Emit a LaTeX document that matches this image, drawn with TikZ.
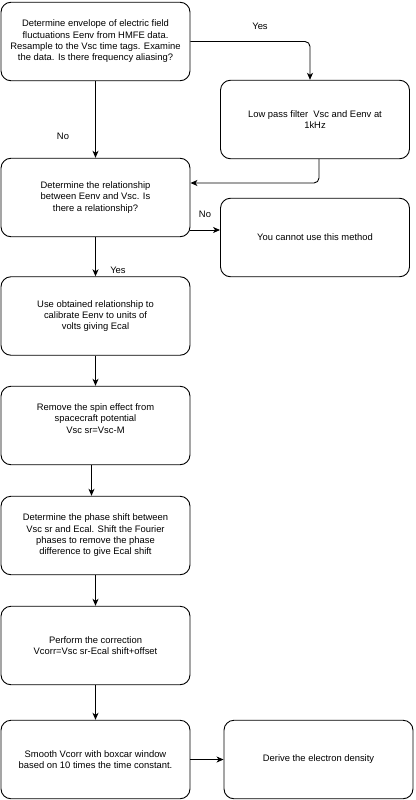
\documentclass[tikz,border=0pt]{standalone}
\usepackage{fontspec}
\setmainfont{Liberation Sans}
\usetikzlibrary{arrows.meta}
\begin{document}
\begin{tikzpicture}[x=1pt,y=-1pt,
  box/.style={draw=black,line width=0.9pt,rounded corners=10pt,minimum width=189pt,minimum height=78.5pt,inner sep=0pt,align=center,font=\fontsize{9.4}{11.3}\selectfont},
  lbl/.style={inner sep=0pt,font=\fontsize{9.4}{11.3}\selectfont},
  arr/.style={draw=black,line width=0.9pt,-{Stealth[length=7pt,width=6pt,inset=2pt]}}]
\useasboundingbox (0,0) rectangle (415,800);
\node[box] (b1) at (95.5,41.5) {\raisebox{0pt}{}Determine envelope of electric field\\fluctuations Eenv from HMFE data.\\Resample to the Vsc time tags. Examine\\the data. Is there frequency aliasing?};
\node[box] (b2) at (315,119.5) {Low pass filter\ \ Vsc and Eenv at\\1kHz};
\node[box] (b3) at (95.5,197.5) {Determine the relationship\\between Eenv and Vsc. Is\\there a relationship?};
\node[box] (b4) at (315,237.5) {You cannot use this method};
\node[box] (b5) at (95.5,316) {Use obtained relationship to\\calibrate Eenv to units of\\volts giving Ecal};
\node[box] (b6) at (95.5,425.5) {};
\node[lbl,align=center] (t6) at (95.5,418.5) {Remove the spin effect from\\spacecraft potential\\ Vsc sr=Vsc-M};
\node[box] (b7) at (95.5,535.5) {Determine the phase shift between\\Vsc sr and Ecal. Shift the Fourier\\phases to remove the phase\\difference to give Ecal shift};
\node[box] (b8) at (95.5,645.5) {Perform the correction\\ Vcorr=Vsc sr-Ecal shift+offset};
\node[box] (b9) at (95.5,759.5) {Smooth Vcorr with boxcar window\\based on 10 times the time constant.};
\node[box] (b10) at (318.5,759.5) {Derive the electron density};
% connectors
\draw[arr] (b1.south) -- (b3.north);
\draw[arr,rounded corners=5pt] (b1.east) -| ([xshift=-5pt]b2.north);
\draw[arr,rounded corners=5pt] ([xshift=4pt]b2.south) |- ([yshift=14.5pt]b3.east);
\coordinate (c34) at ([yshift=-32.5pt]b3.east);
\draw[arr] (c34) -- (c34 -| b4.west);
\draw[arr] (b3.south) -- (b5.north);
\draw[arr] (b5.south) -- (b6.north);
\draw[arr] ([xshift=-4pt]b6.south) -- ([xshift=-4pt]b7.north);
\draw[arr] (b7.south) -- (b8.north);
\draw[arr] (b8.south) -- (b9.north);
\draw[arr] (b9.east) -- (b10.west);
% labels
\node[lbl] (l1) at (260,26) {Yes};
\node[lbl] (l2) at (63,136) {No};
\node[lbl] (l3) at (205,214) {No};
\node[lbl] (l4) at (118,270) {Yes};
\end{tikzpicture}
\end{document}
